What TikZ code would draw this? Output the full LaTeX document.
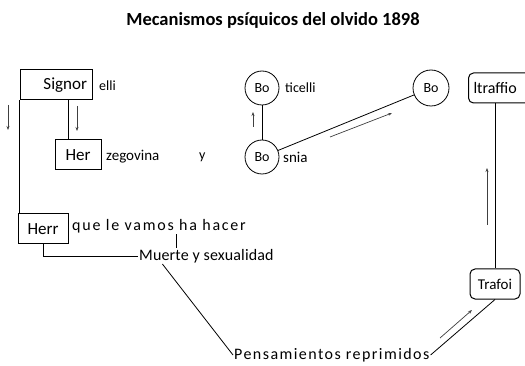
\documentclass[tikz,border=0pt]{standalone}
\usepackage{fontspec}
\setmainfont{Carlito}
\usetikzlibrary{arrows.meta,positioning}

\begin{document}
\begin{tikzpicture}[
  x=1pt, y=-1pt,
  font=\fontsize{14}{16}\selectfont,
  box/.style={draw, line width=1pt, minimum height=30pt, inner sep=3pt},
  rbox/.style={box, rounded corners=5pt},
  bo/.style={draw, circle, line width=0.8pt, minimum size=34pt, inner sep=0pt},
  txt/.style={inner sep=1pt, anchor=west},
  big/.style={font=\fontsize{#1}{#1}\selectfont},
  wide/.style={font=\fontsize{16}{18}\selectfont\addfontfeatures{LetterSpace=#1}},
  link/.style={draw, line width=0.8pt},
  hint/.style={-{Stealth[length=4pt,width=3pt]}, line width=0.7pt, black!75}
]
\useasboundingbox (0,0) rectangle (525,366);
\node[font=\fontsize{18.5}{20}\selectfont\bfseries] (title) at (273,20) {Mecanismos psíquicos del olvido 1898};
% left column
\node[box, minimum width=72pt, text width=62pt, align=right, big=17] (signor) at (56,85) {Signor};
\node[txt] (elli) at (98,86) {elli};
\node[box, minimum width=46pt, big=17] (her) at (78,155) {Her};
\node[txt, big=15] (zeg) at (105,157) {zegovina};
\node[txt] (y) at (198,157) {y};
\node[box, minimum width=50pt, big=17] (herr) at (43,229) {Herr};
\node[txt, wide=11] (que) at (71,226) {que le vamos ha hacer};
\node[txt, wide=1] (muerte) at (138,256) {Muerte y sexualidad};
\node[txt, wide=9] (pensam) at (233,355) {Pensamientos reprimidos};
% Bo circles
\node[bo] (botop) at (262,88) {Bo};
\node[txt] (ticelli) at (284,88) {ticelli};
\node[bo] (bobot) at (262,157) {Bo};
\node[txt, big=15] (snia) at (282,157) {snia};
\node[bo, minimum size=36pt] (boright) at (431,88) {Bo};
% right column
\node[rbox, anchor=west, minimum width=100pt, text width=90pt, align=left, big=16] (traffio) at (468,88) {ltraffio};
\node[rbox, minimum width=50pt, big=15] (trafoi) at (495,284) {Trafoi};
% connectors
\draw[link] (signor.south west) -- (signor.south west |- herr.north);
\draw[link] ([xshift=-10pt]her.north |- signor.south) -- ([xshift=-10pt]her.north);
\draw[link] (herr.south) |- (muerte.west);
\draw[link] ([xshift=17pt]que.south) -- ([xshift=17pt]que.south |- muerte.north);
\draw[link] ([xshift=-44pt]muerte.south) -- (pensam.west);
\draw[link] (botop) -- (bobot);
\draw[link] (bobot) -- (boright);
\draw[link] (trafoi.north |- traffio.south) -- (trafoi.north);
\draw[link] (pensam.east) -- (trafoi.south);
% small arrows
\coordinate (a1) at (8,105);  \coordinate (a2) at (8,130);
\coordinate (b1) at (77,106); \coordinate (b2) at (77,131);
\coordinate (c1) at (253,127); \coordinate (c2) at (253,112);
\coordinate (d1) at (330,137); \coordinate (d2) at (392,113);
\coordinate (e1) at (487,225); \coordinate (e2) at (487,168);
\coordinate (f1) at (440,338); \coordinate (f2) at (472,310);
\draw[hint] (a1) -- (a2);
\draw[hint] (b1) -- (b2);
\draw[hint] (c1) -- (c2);
\draw[hint] (d1) -- (d2);
\draw[hint] (e1) -- (e2);
\draw[hint] (f1) -- (f2);
\end{tikzpicture}
\end{document}
